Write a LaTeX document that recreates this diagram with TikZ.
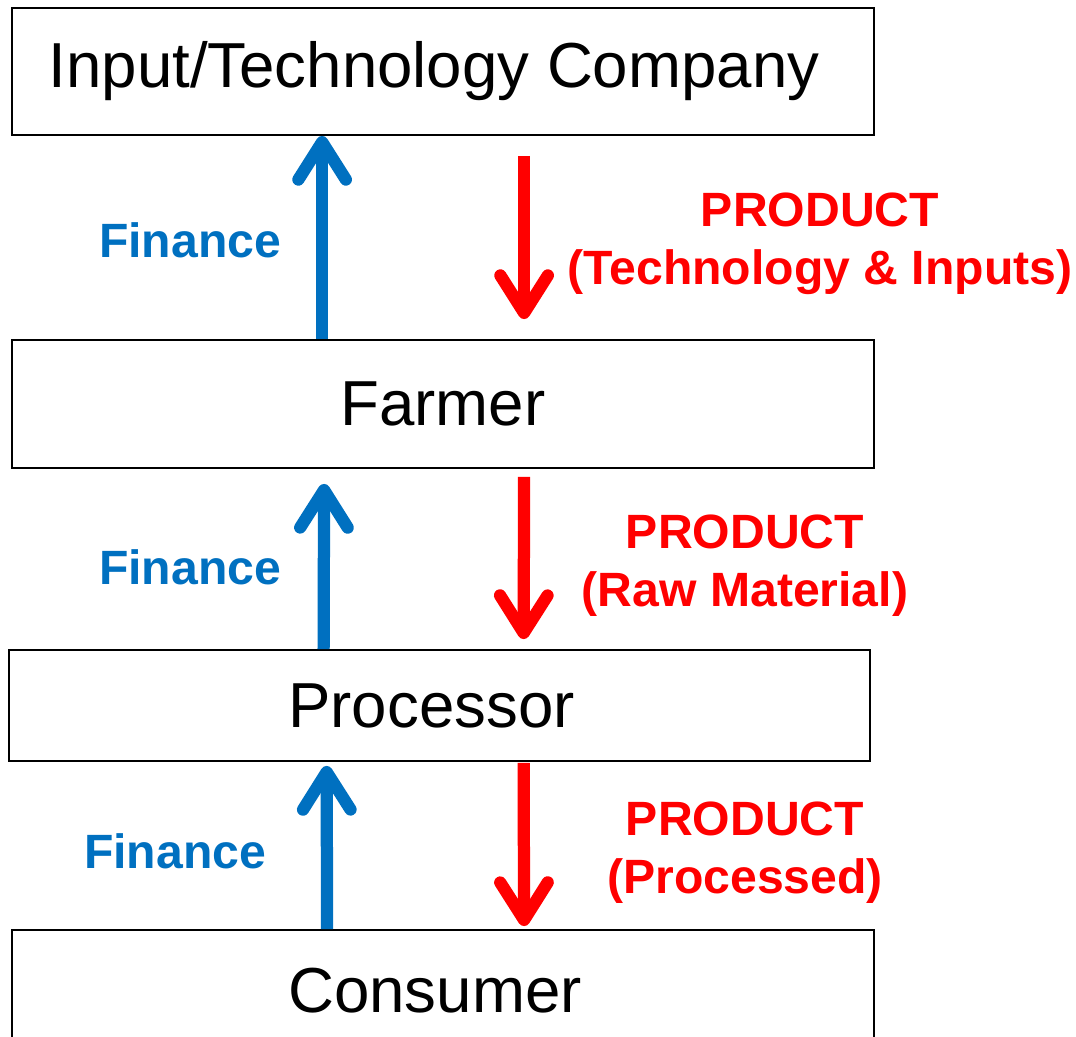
\documentclass[tikz,border=0pt]{standalone}
\usepackage{fontspec}
\setmainfont{Liberation Sans}
\usetikzlibrary{arrows.meta,calc}
\definecolor{finblue}{HTML}{0070C0}
\definecolor{prodred}{HTML}{FF0000}

\begin{document}
\begin{tikzpicture}[x=0.02cm, y=-0.02cm,
    box/.style={draw, line width=1.1pt, inner sep=0pt,
                minimum width=17.24cm,
                font=\fontsize{36.2}{43}\selectfont},
    flow/.style={line width=0.245cm,
                 -{Straight Barb[length=0.75cm, width=0.95cm, round]}},
    fin/.style={flow, finblue},
    prod/.style={flow, prodred},
    lbl/.style={font=\bfseries\fontsize{27.4}{32.9}\selectfont, align=center}]
  \useasboundingbox (0,0) rectangle (1076,1037);

  % the chain
  \node[box, minimum height=2.54cm] (input) at (443,71.5)
    {\raisebox{-0.2cm}{Input/Technology Company}\hspace*{0.36cm}};
  \node[box, minimum height=2.56cm] (farmer) at (443,404)
    {\raisebox{-0.08cm}{Farmer}};
  \node[box, minimum height=2.22cm] (proc) at (439.5,705.5)
    {\raisebox{-0.04cm}{Processor}\hspace*{0.32cm}};
  \node[box, minimum height=2.6cm] (cons) at (443,995)
    {\raisebox{0.18cm}{Consumer}\hspace*{0.32cm}};

  % money goes up
  \draw[fin] ($(farmer.north west)+(311,0)$) -- ($(input.south west)+(311,0)$);
  \draw[fin, shorten >=0.3cm] ($(proc.north west)+(316,0)$) -- ($(farmer.south west)+(313,0)$);
  \draw[fin, shorten >=0.08cm] ($(cons.north west)+(316,0)$) -- ($(proc.south west)+(319,0)$);

  % goods go down
  \draw[prod, shorten <=0.4cm, shorten >=0.4cm] ($(input.south west)+(513,0)$) -- ($(farmer.north west)+(513,0)$);
  \draw[prod, shorten <=0.16cm, shorten >=0.2cm] ($(farmer.south west)+(513,0)$) -- ($(proc.north west)+(516,0)$);
  \draw[prod, shorten <=0.02cm, shorten >=0.06cm] ($(proc.south west)+(516,0)$) -- ($(cons.north west)+(513,0)$);

  % labels
  \node[lbl, finblue] (fin1) at (190,240) {Finance};
  \node[lbl, finblue] (fin2) at (190,567) {Finance};
  \node[lbl, finblue] (fin3) at (175,851) {Finance};
  \node[lbl, prodred] (prod1) at (820,244) {PRODUCT\\(Technology \& Inputs)};
  \node[lbl, prodred] (prod2) at (745,566) {PRODUCT\\(Raw Material)};
  \node[lbl, prodred] (prod3) at (745,853) {PRODUCT\\(Processed)};
\end{tikzpicture}
\end{document}
